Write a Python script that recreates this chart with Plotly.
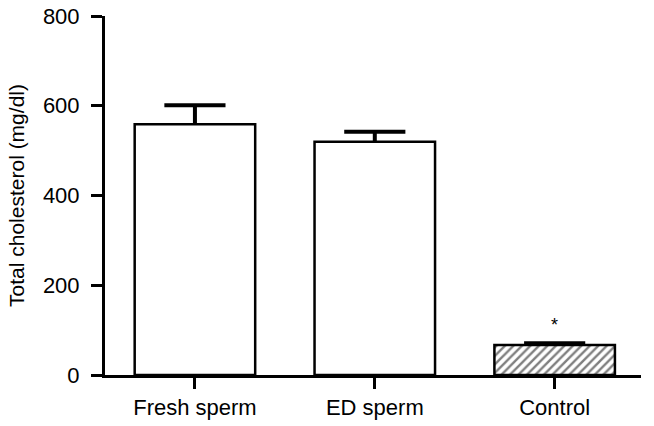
import plotly.graph_objects as go

# values
groups = ["Fresh sperm", "ED sperm", "Control"]
means = [559, 520, 67]
sem = [42, 22, 4]
patterns = ["", "", "/"]
y_ticks = [0, 200, 400, 600, 800]

xpos = list(range(len(groups)))
cap_half = 0.17

fig = go.Figure()

fig.add_trace(go.Bar(
    x=xpos,
    y=means,
    width=0.67,
    marker=dict(
        color="white",
        line=dict(color="black", width=2.5),
        pattern=dict(shape=patterns, fgcolor="black", bgcolor="white",
                     size=6, solidity=0.4),
    ),
))

# upper-only error bars: stem plus cap
ex, ey = [], []
for x, m, s in zip(xpos, means, sem):
    ex += [x, x, None, x - cap_half, x + cap_half, None]
    ey += [m, m + s, None, m + s, m + s, None]
fig.add_trace(go.Scatter(x=ex, y=ey, mode="lines",
                         line=dict(color="black", width=4), hoverinfo="skip"))

# significance marker above the control bar
fig.add_annotation(x=xpos[2], y=means[2] + sem[2] + 40, text="*",
                   showarrow=False, font=dict(size=18, color="black"))

fig.update_layout(
    width=654, height=426,
    margin=dict(l=105, r=13, t=16, b=51, autoexpand=False),
    plot_bgcolor="white", paper_bgcolor="white",
    showlegend=False,
    font=dict(family="Liberation Sans, Arial, sans-serif", size=22, color="black"),
)
fig.update_xaxes(
    range=[-0.5, 2.48], tickvals=xpos, ticktext=groups,
    showline=True, linecolor="black", linewidth=3,
    ticks="outside", ticklen=11, tickwidth=3, tickcolor="black",
    showgrid=False, zeroline=False, tickfont=dict(size=22), automargin=False,
)
fig.update_yaxes(
    range=[0, 800], tickvals=y_ticks, showline=True, linecolor="black",
    linewidth=3, ticks="outside", ticklen=11, tickwidth=3, tickcolor="black",
    showgrid=False, zeroline=False, tickfont=dict(size=22), automargin=False,
    ticklabeloverflow="allow", ticklabelstandoff=7,
    title=dict(text="Total cholesterol (mg/dl)", font=dict(size=21), standoff=13),
)

# drop the default page margin so the figure sits at the window's corner
fig.write_html("out.html", config={"displayModeBar": False},
               post_script="document.body.style.margin='0';")
